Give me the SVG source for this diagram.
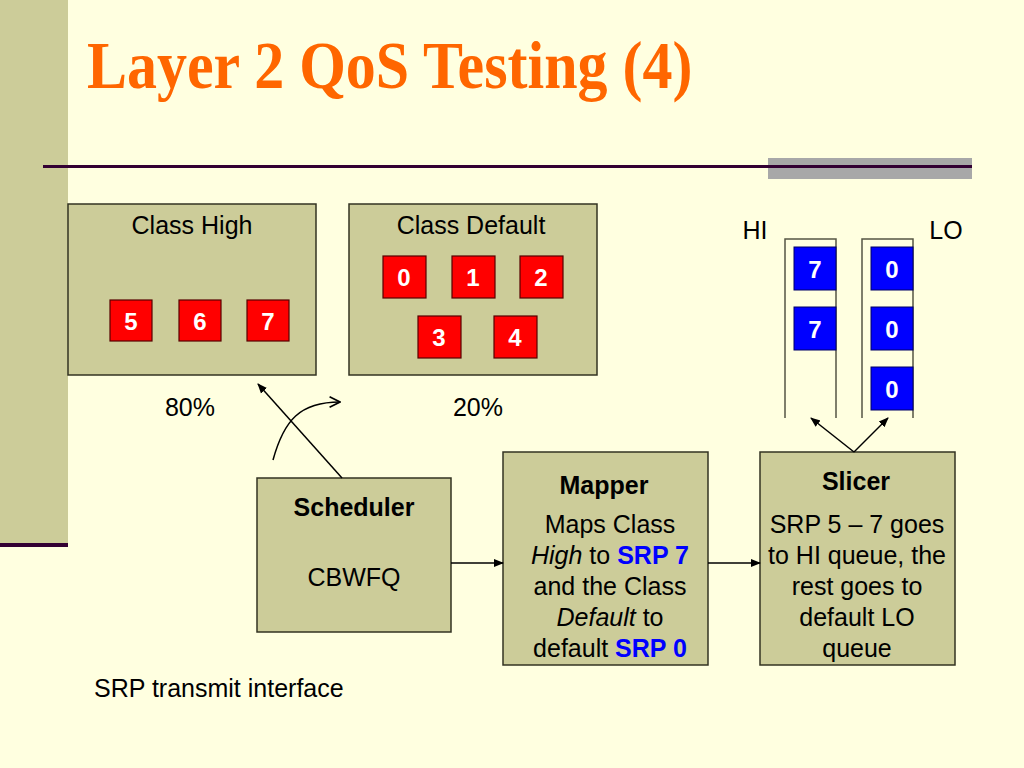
<svg xmlns="http://www.w3.org/2000/svg" width="1024" height="768" viewBox="0 0 1024 768">
<defs>
<style>
.t{font-family:"Liberation Sans",Arial,sans-serif;font-size:25px;fill:#000}
.c{text-anchor:middle}
.b{font-weight:bold}
.box{fill:#CCCC99;stroke:#333322;stroke-width:1.5}
.red{fill:#FF0000;stroke:#550000;stroke-width:1.2}
.blue{fill:#0000FF;stroke:#000066;stroke-width:1}
.num{font-family:"Liberation Sans",Arial,sans-serif;font-size:24px;font-weight:bold;fill:#FFFFFF;text-anchor:middle}
.srp{fill:#0000FF;font-weight:bold}
.ln{fill:none;stroke:#000;stroke-width:1.5}
.q{fill:none;stroke:#555544;stroke-width:1.5}
</style>
<marker id="ah" viewBox="0 0 10 10" refX="9" refY="5" markerWidth="10" markerHeight="10" markerUnits="userSpaceOnUse" orient="auto">
<path d="M0,1 L10,5 L0,9 z" fill="#000"/>
</marker>
<marker id="ao" viewBox="0 0 10 10" refX="9" refY="5" markerWidth="13" markerHeight="13" markerUnits="userSpaceOnUse" orient="auto">
<path d="M1,1 L9,5 L1,9" fill="none" stroke="#000" stroke-width="1.3"/>
</marker>
</defs>
<rect width="1024" height="768" fill="#FFFFE0"/>
<rect x="0" y="0" width="68" height="544" fill="#CCCC99"/>
<rect x="0" y="543" width="68" height="4" fill="#330033"/>
<rect x="768" y="158" width="204" height="21" fill="#A8A8A8"/>
<rect x="43" y="165" width="929" height="3" fill="#330033"/>
<text transform="translate(87,88) scale(1,1.12)" x="0" y="0" font-family="'Liberation Serif','Times New Roman',serif" font-size="60" font-weight="bold" fill="#FF6600">Layer 2 QoS Testing (4)</text>

<g id="class-high">
<rect class="box" x="68" y="204" width="248" height="171"/>
<text class="t c" x="192" y="234">Class High</text>
<rect class="red" x="110" y="300" width="42" height="41"/><text class="num" x="131" y="330">5</text>
<rect class="red" x="179" y="300" width="42" height="41"/><text class="num" x="200" y="330">6</text>
<rect class="red" x="247" y="300" width="42" height="41"/><text class="num" x="268" y="330">7</text>
</g>
<g id="class-default">
<rect class="box" x="349" y="204" width="248" height="171"/>
<text class="t c" x="471" y="234">Class Default</text>
<rect class="red" x="383" y="256" width="43" height="42"/><text class="num" x="404" y="286">0</text>
<rect class="red" x="452" y="256" width="43" height="42"/><text class="num" x="473" y="286">1</text>
<rect class="red" x="520" y="256" width="43" height="42"/><text class="num" x="541" y="286">2</text>
<rect class="red" x="418" y="316" width="43" height="42"/><text class="num" x="439" y="346">3</text>
<rect class="red" x="494" y="316" width="43" height="42"/><text class="num" x="515" y="346">4</text>
</g>
<text class="t c" x="190" y="416">80%</text>
<text class="t c" x="478" y="416">20%</text>

<g id="hi-queue">
<text class="t c" x="755" y="239">HI</text>
<path class="q" d="M785,418 V239 H836 V418"/>
<rect class="blue" x="794" y="247" width="42" height="43"/><text class="num" x="815" y="278">7</text>
<rect class="blue" x="794" y="307" width="42" height="43"/><text class="num" x="815" y="338">7</text>
</g>
<g id="lo-queue">
<text class="t c" x="946" y="239">LO</text>
<path class="q" d="M862,418 V239 H913 V418"/>
<rect class="blue" x="871" y="247" width="42" height="43"/><text class="num" x="892" y="278">0</text>
<rect class="blue" x="871" y="307" width="42" height="43"/><text class="num" x="892" y="338">0</text>
<rect class="blue" x="871" y="367" width="42" height="43"/><text class="num" x="892" y="398">0</text>
</g>

<g id="scheduler">
<rect class="box" x="257" y="478" width="194" height="154"/>
<text class="t c b" x="354" y="516">Scheduler</text>
<text class="t c" x="354" y="586">CBWFQ</text>
</g>
<g id="mapper">
<rect class="box" x="503" y="452" width="205" height="213"/>
<text class="t c b" x="604" y="494">Mapper</text>
<text class="t c" x="610" y="533">Maps Class</text>
<text class="t c" x="610" y="564"><tspan font-style="italic">High</tspan> to <tspan class="srp">SRP 7</tspan></text>
<text class="t c" x="610" y="595">and the Class</text>
<text class="t c" x="610" y="626"><tspan font-style="italic">Default</tspan> to</text>
<text class="t c" x="610" y="657">default <tspan class="srp">SRP 0</tspan></text>
</g>
<g id="slicer">
<rect class="box" x="760" y="452" width="195" height="213"/>
<text class="t c b" x="856" y="490">Slicer</text>
<text class="t c" x="857" y="533">SRP 5 – 7 goes</text>
<text class="t c" x="857" y="564">to HI queue, the</text>
<text class="t c" x="857" y="595">rest goes to</text>
<text class="t c" x="857" y="626">default LO</text>
<text class="t c" x="857" y="657">queue</text>
</g>
<text class="t" x="94" y="697">SRP transmit interface</text>

<g id="connectors">
<line class="ln" x1="342" y1="478" x2="258" y2="384" marker-end="url(#ah)"/>
<path class="ln" d="M273,460 C284,420 300,402 340,402" marker-end="url(#ao)"/>
<line class="ln" x1="451" y1="563" x2="503" y2="563" marker-end="url(#ah)"/>
<line class="ln" x1="708" y1="563" x2="760" y2="563" marker-end="url(#ah)"/>
<line class="ln" x1="854" y1="452" x2="811" y2="418" marker-end="url(#ah)"/>
<line class="ln" x1="854" y1="452" x2="888" y2="418" marker-end="url(#ah)"/>
</g>
</svg>
